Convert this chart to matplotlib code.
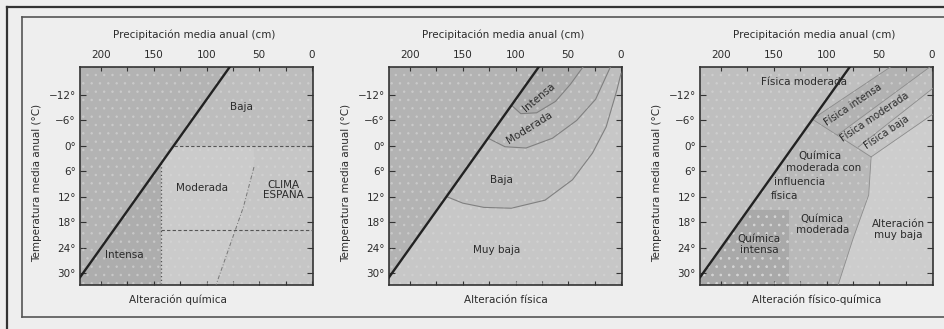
import numpy as np
import matplotlib
matplotlib.use('Agg')
from matplotlib import pyplot as plt
from matplotlib.patches import Polygon, Rectangle
from matplotlib.lines import Line2D

plt.rcParams['font.family'] = ['DejaVu Sans']
plt.rcParams['hatch.linewidth'] = 0.6

# axis scales (precipitation in cm, temperature in degrees C)
prec_ticks = [200, 150, 100, 50, 0]
prec_minor = [200, 175, 150, 125, 100, 75, 50, 25, 0]
temp_ticks = [-12, -6, 0, 6, 12, 18, 24, 30]
temp_labels = ['\u221212\u00b0', '\u22126\u00b0', '0\u00b0', '6\u00b0', '12\u00b0', '18\u00b0', '24\u00b0', '30\u00b0']
prec_lim = (220, -1)
temp_lim = (32.8, -18.6)

titles_top = 'Precipitación media anual (cm)'
ylabel = 'Temperatura media anual (°C)'
bottom_labels = ['Alteración química', 'Alteración física', 'Alteración físico-química']

# diagonal limit line (same on the three diagrams)
diag_prec = [220, 78]
diag_temp = [31, -18.6]

# panel 1 - chemical weathering
p1_zero_temp = 0
p1_spain_temp = 19.9
p1_spain_prec = 143
p1_edge_prec = [55, 55, 65, 91]
p1_edge_temp = [0, 5, 14.4, 32.8]
p1_labels = ['Baja', 'Moderada', 'CLIMA\nESPAÑA', 'Intensa']
p1_label_prec = [67, 104, 27, 178]
p1_label_temp = [-9.2, 10, 10.4, 25.8]

# panel 2 - physical weathering (curves start on the diagonal)
p2_int_prec = [104, 95, 80, 62, 48, 36]
p2_int_temp = [-9.6, -7.6, -7.8, -10.5, -14.5, -18.6]
p2_mod_prec = [126, 110, 90, 65, 42, 24, 10]
p2_mod_temp = [-1.8, 0.2, 0.5, -1.8, -6, -11, -18.6]
p2_baja_prec = [165, 150, 130, 104, 72, 46, 27, 14, 4, 0]
p2_baja_temp = [12, 13.5, 14.5, 14.7, 12.8, 8, 1.7, -4.5, -13, -17]
p2_labels = ['Intensa', 'Moderada', 'Baja', 'Muy baja']
p2_label_prec = [78, 87, 113, 118]
p2_label_temp = [-11.5, -4.2, 8, 24.6]
p2_label_rot = [40, 32, 0, 0]

# panel 3 - physico-chemical weathering
p3_f0_prec = [113.5, 39.4]
p3_f0_temp = [-6.3, -18.6]
p3_f1_prec = [89.4, 2]
p3_f1_temp = [-2.6, -18.6]
p3_f2_prec = [70, -1]
p3_f2_temp = [0.3, -13.6]
p3_f3_prec = [57.7, -1]
p3_f3_temp = [2.6, -7.5]
p3_low_prec = [57.7, 60, 75, 89]
p3_low_temp = [2.6, 11.6, 22, 32.8]
p3_int_prec = 136
p3_int_temp = 15
p3_labels = ['Física moderada', 'Química', 'moderada con', 'influencia', 'física',
             'Química\nmoderada', 'Alteración\nmuy baja', 'Química\nintensa']
p3_label_prec = [121, 106, 103, 126, 140, 104, 32, 164]
p3_label_temp = [-15.1, 2.4, 5.3, 8.6, 11.7, 18.5, 19.8, 23.3]
p3_band_labels = ['Física intensa', 'Física moderada', 'Física baja']
p3_band_prec = [75, 54, 43]
p3_band_temp = [-9.6, -6.8, -3.3]

text_col = '#2b2b2b'


def diag_at(t):
    return np.interp(t, diag_temp[::-1], diag_prec[::-1])


def fill(ax, xs, ys, color, hatch=None):
    ax.add_patch(Polygon(np.column_stack([xs, ys]), closed=True, facecolor=color,
                         edgecolor='#d2d2d2', lw=0, hatch=hatch, zorder=1))


def band(ax, cp, ct, color):
    # region between the diagonal, the top edge and a curve starting on the diagonal
    xs = [diag_prec[1], prec_lim[1]] + list(cp[::-1])
    ys = [temp_lim[1], temp_lim[1]] + list(ct[::-1])
    fill(ax, xs, ys, color)


def setup(ax, left_color, right_color):
    ax.set_xlim(*prec_lim)
    ax.set_ylim(*temp_lim)
    ax.set_facecolor(right_color)
    fill(ax, [prec_lim[0], diag_prec[1], diag_prec[0], prec_lim[0]],
         [temp_lim[1], temp_lim[1], diag_temp[0], temp_lim[0]], left_color)
    ax.xaxis.tick_top()
    ax.set_xticks(prec_ticks)
    ax.set_xticklabels([str(v) for v in prec_ticks])
    ax.set_xticks(prec_minor, minor=True)
    ax.set_yticks(temp_ticks)
    ax.set_yticklabels(temp_labels)
    ax.tick_params(axis='x', which='both', direction='in', top=True, bottom=True,
                   length=3, width=0.8, pad=5, labelsize=7.5, colors='#333', labelcolor=text_col)
    ax.tick_params(axis='y', direction='in', left=True, right=True, length=4, width=0.8,
                   pad=3, labelsize=7.5, colors='#333', labelcolor=text_col)
    for s in ax.spines.values():
        s.set_color('#333')
        s.set_linewidth(1.2)
    ax.text(0.49, 1.147, titles_top, transform=ax.transAxes, ha='center', va='center',
            fontsize=7.5, color=text_col)
    ax.text(-0.185, 0.47, ylabel, transform=ax.transAxes, ha='center', va='center',
            rotation=90, fontsize=7.5, color=text_col)


def finish(ax):
    # halftone texture of the print
    ax.add_patch(Rectangle((0, 0), 1, 1, transform=ax.transAxes, facecolor='none',
                           edgecolor='#d6d6d6', lw=0, hatch='..', alpha=0.55, zorder=2))
    ax.plot(diag_prec, diag_temp, color='#222', lw=1.7, zorder=5)


fig = plt.figure(figsize=(9.44, 3.29), dpi=100, facecolor='#eeeeee')
W, H = 944, 329
lefts = [80, 389, 700]
axes = [fig.add_axes([l / W, 1 - 285 / H, 233 / W, 218 / H]) for l in lefts]

# ---- panel 1
ax = axes[0]
setup(ax, '#b3b3b3', '#c6c6c6')
d0 = diag_at(p1_zero_temp)
d_sp = np.interp(p1_spain_prec, diag_prec[::-1], diag_temp[::-1])
fill(ax, [diag_prec[1], prec_lim[1], prec_lim[1], d0],
     [temp_lim[1], temp_lim[1], p1_zero_temp, p1_zero_temp], '#bdbdbd')
fill(ax, [d0] + p1_edge_prec + [p1_spain_prec, p1_spain_prec],
     [p1_zero_temp] + p1_edge_temp + [temp_lim[0], d_sp], '#cbcbcb')
fill(ax, [p1_spain_prec, p1_spain_prec, prec_lim[0], prec_lim[0]],
     [d_sp, temp_lim[0], temp_lim[0], diag_temp[0]], '#adadad')
ax.plot([d0, prec_lim[1]], [p1_zero_temp, p1_zero_temp], ls=(0, (3, 2)), color='#555', lw=0.8, zorder=4)
ax.plot([p1_spain_prec, prec_lim[1]], [p1_spain_temp, p1_spain_temp], ls=(0, (3, 2)), color='#555', lw=0.8, zorder=4)
ax.plot([p1_spain_prec, p1_spain_prec], [d_sp, temp_lim[0]], ls=(0, (1, 2)), color='#555', lw=0.9, zorder=4)
ax.plot(p1_edge_prec[1:], p1_edge_temp[1:], ls=(0, (4, 2, 1, 2)), color='#777', lw=0.7, zorder=4)
for lab, x, y in zip(p1_labels, p1_label_prec, p1_label_temp):
    ax.text(x, y, lab, ha='center', va='center', fontsize=7.5, color=text_col, zorder=6,
            linespacing=1.1)
finish(ax)
ax.text(0.42, -0.069, bottom_labels[0], transform=ax.transAxes, ha='center', va='center',
        fontsize=7.5, color=text_col)

# ---- panel 2
ax = axes[1]
setup(ax, '#b3b3b3', '#c7c7c7')
band(ax, p2_baja_prec, p2_baja_temp, '#bebebe')
band(ax, p2_mod_prec, p2_mod_temp, '#b7b7b7')
band(ax, p2_int_prec, p2_int_temp, '#adadad')
for cp, ct in [(p2_int_prec, p2_int_temp), (p2_mod_prec, p2_mod_temp), (p2_baja_prec, p2_baja_temp)]:
    ax.plot(cp, ct, color='#808080', lw=0.8, zorder=4)
for lab, x, y, r in zip(p2_labels, p2_label_prec, p2_label_temp, p2_label_rot):
    ax.text(x, y, lab, ha='center', va='center', fontsize=7.5, color=text_col,
            rotation=r, zorder=6)
finish(ax)
ax.text(0.5, -0.069, bottom_labels[1], transform=ax.transAxes, ha='center', va='center',
        fontsize=7.5, color=text_col)

# ---- panel 3
ax = axes[2]
setup(ax, '#bfbfbf', '#b9b9b9')
fill(ax, [diag_prec[1]] + p3_f0_prec[::-1], [temp_lim[1]] + p3_f0_temp[::-1], '#bfbfbf')
fill(ax, p3_f0_prec + p3_f1_prec[::-1], p3_f0_temp + p3_f1_temp[::-1], '#b2b2b2')
fill(ax, p3_f1_prec + [prec_lim[1]] + p3_f2_prec[::-1],
     p3_f1_temp + [temp_lim[1]] + p3_f2_temp[::-1], '#bcbcbc')
fill(ax, p3_f2_prec + p3_f3_prec[::-1], p3_f2_temp + p3_f3_temp[::-1], '#c4c4c4')
fill(ax, p3_f3_prec[::-1] + p3_low_prec[1:] + [prec_lim[1]],
     p3_f3_temp[::-1] + p3_low_temp[1:] + [temp_lim[0]], '#cdcdcd')
fill(ax, [diag_at(p3_int_temp), p3_int_prec, p3_int_prec, prec_lim[0], prec_lim[0]],
     [p3_int_temp, p3_int_temp, temp_lim[0], temp_lim[0], diag_temp[0]], '#a9a9a9', hatch='..')
for cp, ct in [(p3_f0_prec, p3_f0_temp), (p3_f1_prec, p3_f1_temp), (p3_f2_prec, p3_f2_temp),
               (p3_f3_prec, p3_f3_temp), (p3_low_prec, p3_low_temp),
               ([p3_f0_prec[0], p3_f3_prec[0]], [p3_f0_temp[0], p3_f3_temp[0]])]:
    ax.plot(cp, ct, color='#8c8c8c', lw=0.6, zorder=4)
for lab, x, y in zip(p3_labels, p3_label_prec, p3_label_temp):
    ax.text(x, y, lab, ha='center', va='center', fontsize=7.5, color=text_col, zorder=6,
            linespacing=1.15)
for lab, x, y in zip(p3_band_labels, p3_band_prec, p3_band_temp):
    ax.text(x, y, lab, ha='center', va='center', fontsize=7, color=text_col,
            rotation=34, zorder=6)
finish(ax)
ax.text(0.5, -0.069, bottom_labels[2], transform=ax.transAxes, ha='center', va='center',
        fontsize=7.5, color=text_col)

# scanned page frames
for (x0, y0, x1, y1), lw, c in [((7, 7, 950, 7), 1.6, '#333'), ((7, 7, 7, 340), 1.6, '#333'),
                                ((22, 17, 950, 17), 1.2, '#555'), ((22, 17, 22, 317), 1.2, '#555'),
                                ((22, 317, 950, 317), 1.2, '#555')]:
    fig.add_artist(Line2D([x0 / W, x1 / W], [1 - y0 / H, 1 - y1 / H], color=c, lw=lw,
                          transform=fig.transFigure))

fig.savefig('out.png', dpi=100, facecolor=fig.get_facecolor())
